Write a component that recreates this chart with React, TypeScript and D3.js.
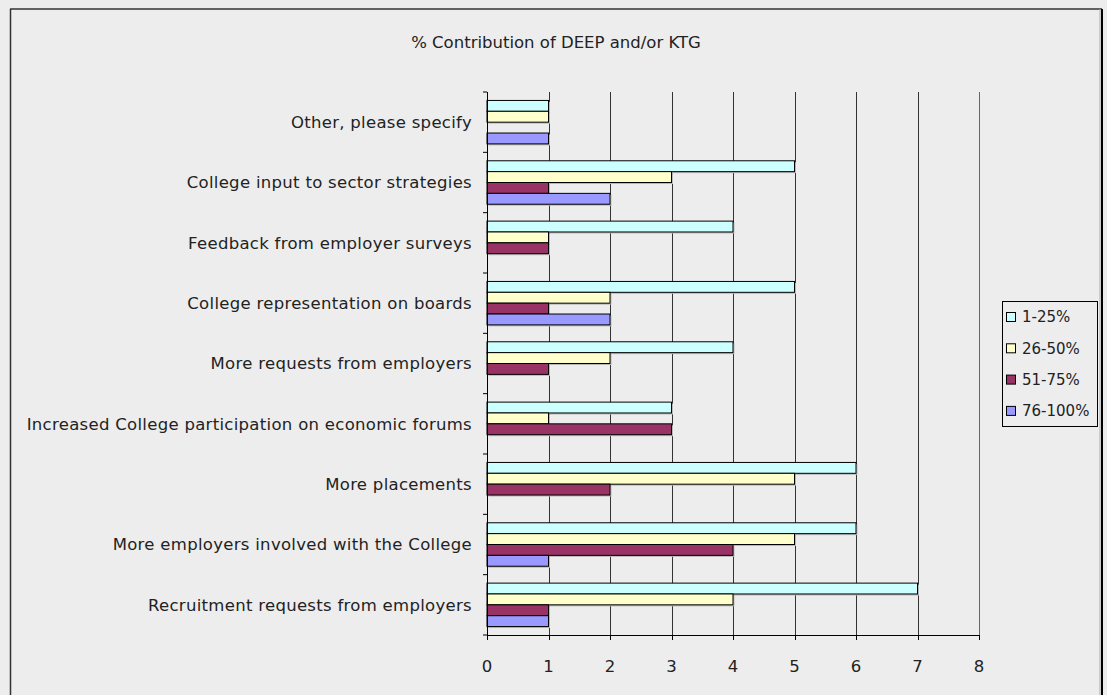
import React from "react";
import * as d3 from "d3";

const categories = [
  "Other, please specify",
  "College input to sector strategies",
  "Feedback from employer surveys",
  "College representation on boards",
  "More requests from employers",
  "Increased College participation on economic forums",
  "More placements",
  "More employers involved with the College",
  "Recruitment requests from employers",
];
const seriesNames = ["1-25%", "26-50%", "51-75%", "76-100%"];
const seriesColors = ["#CCFFFF", "#FFFFCC", "#993366", "#9999FF"];
const s1 = [1, 5, 4, 5, 4, 3, 6, 6, 7];
const s2 = [1, 3, 1, 2, 2, 1, 5, 5, 4];
const s3 = [0, 1, 1, 1, 1, 3, 2, 4, 1];
const s4 = [1, 2, 0, 2, 0, 0, 0, 1, 1];
const xTicks = [0, 1, 2, 3, 4, 5, 6, 7, 8];
const title = "% Contribution of DEEP and/or KTG";

const FONT = "'DejaVu Sans', sans-serif";
const FS = 16.5;

export default function App() {
  const W = 1107, H = 695;
  const left = 487, right = 979, top = 92, bottom = 635;
  const x = d3.scaleLinear().domain([0, 8]).range([left, right]);
  const y = d3.scaleBand<string>().domain(categories).range([top, bottom]).padding(0);
  const bw = y.bandwidth();
  const inner = d3.scaleBand<string>().domain(seriesNames).range([bw * 0.14, bw * 0.86]).padding(0);
  const values = [s1, s2, s3, s4];

  return (
    <svg width={W} height={H} style={{ position: "absolute", left: 0, top: 0, background: "#EDEDED" }}
      fontFamily={FONT}>
      <rect x={0} y={0} width={W} height={H} fill="#EDEDED" />
      {/* outer frame */}
      <line x1={10} y1={9} x2={1102} y2={9} stroke="#333" strokeWidth={1.5} />
      <line x1={10.5} y1={9} x2={10.5} y2={H} stroke="#333" strokeWidth={1.5} />
      <line x1={1102} y1={9} x2={1102} y2={H} stroke="#000" strokeWidth={2} />
      <line x1={1100} y1={9} x2={1100} y2={H} stroke="#aaa" strokeWidth={1} />

      <text x={556} y={42} dy="0.35em" textAnchor="middle" fontSize={FS} fill="#222">{title}</text>

      {/* gridlines */}
      {xTicks.filter(t => t > 0).map(t => (
        <line key={"g" + t} x1={Math.round(x(t)) + 0.5} x2={Math.round(x(t)) + 0.5} y1={top} y2={bottom}
          stroke={t === 8 ? "#666" : "#333"} strokeWidth={1} />
      ))}

      {/* bars */}
      {categories.map((c, ci) => (
        <g key={c} transform={`translate(0,${y(c)})`}>
          {seriesNames.map((s, si) => {
            const v = values[si][ci];
            if (!v) return null;
            const by = inner(s)!;
            const h = inner.bandwidth();
            return (
              <g key={s}>
                <rect x={x(0) + 1.5} y={by + 1.5} width={x(v) - x(0)} height={h} fill="#b8b8b8" />
                <rect x={x(0)} y={by} width={x(v) - x(0)} height={h} fill={seriesColors[si]}
                  stroke="#000" strokeWidth={1} />
              </g>
            );
          })}
        </g>
      ))}

      {/* y axis */}
      <line x1={left + 0.5} x2={left + 0.5} y1={top} y2={bottom} stroke="#000" />
      {categories.concat(["__end"]).map((c, i) => {
        const yy = top + i * bw;
        return <line key={"yt" + i} x1={left - 4} x2={left} y1={yy} y2={yy} stroke="#000" />;
      })}
      {categories.map(c => (
        <text key={"l" + c} x={472} y={y(c)! + bw / 2} dy="0.35em" textAnchor="end" fontSize={FS}
          letterSpacing={0.3} fill="#222">{c}</text>
      ))}

      {/* x axis */}
      <line x1={left} x2={right} y1={bottom + 0.5} y2={bottom + 0.5} stroke="#000" />
      {xTicks.map(t => (
        <g key={"xt" + t}>
          <line x1={Math.round(x(t)) + 0.5} x2={Math.round(x(t)) + 0.5} y1={bottom} y2={bottom + 5} stroke="#000" />
          <text x={x(t)} y={666} dy="0.35em" textAnchor="middle" fontSize={FS} fill="#222">{t}</text>
        </g>
      ))}

      {/* legend */}
      <rect x={1002.5} y={301.5} width={95} height={125} fill="#EDEDED" stroke="#000" />
      {seriesNames.map((s, i) => (
        <g key={"lg" + s} transform={`translate(1006,${317 + i * 31.3})`}>
          <rect x={0.5} y={-4.5} width={9} height={9} fill={seriesColors[i]} stroke="#000" />
          <text x={16} y={0} dy="0.35em" fontSize={15} fill="#222">{s}</text>
        </g>
      ))}
    </svg>
  );
}
